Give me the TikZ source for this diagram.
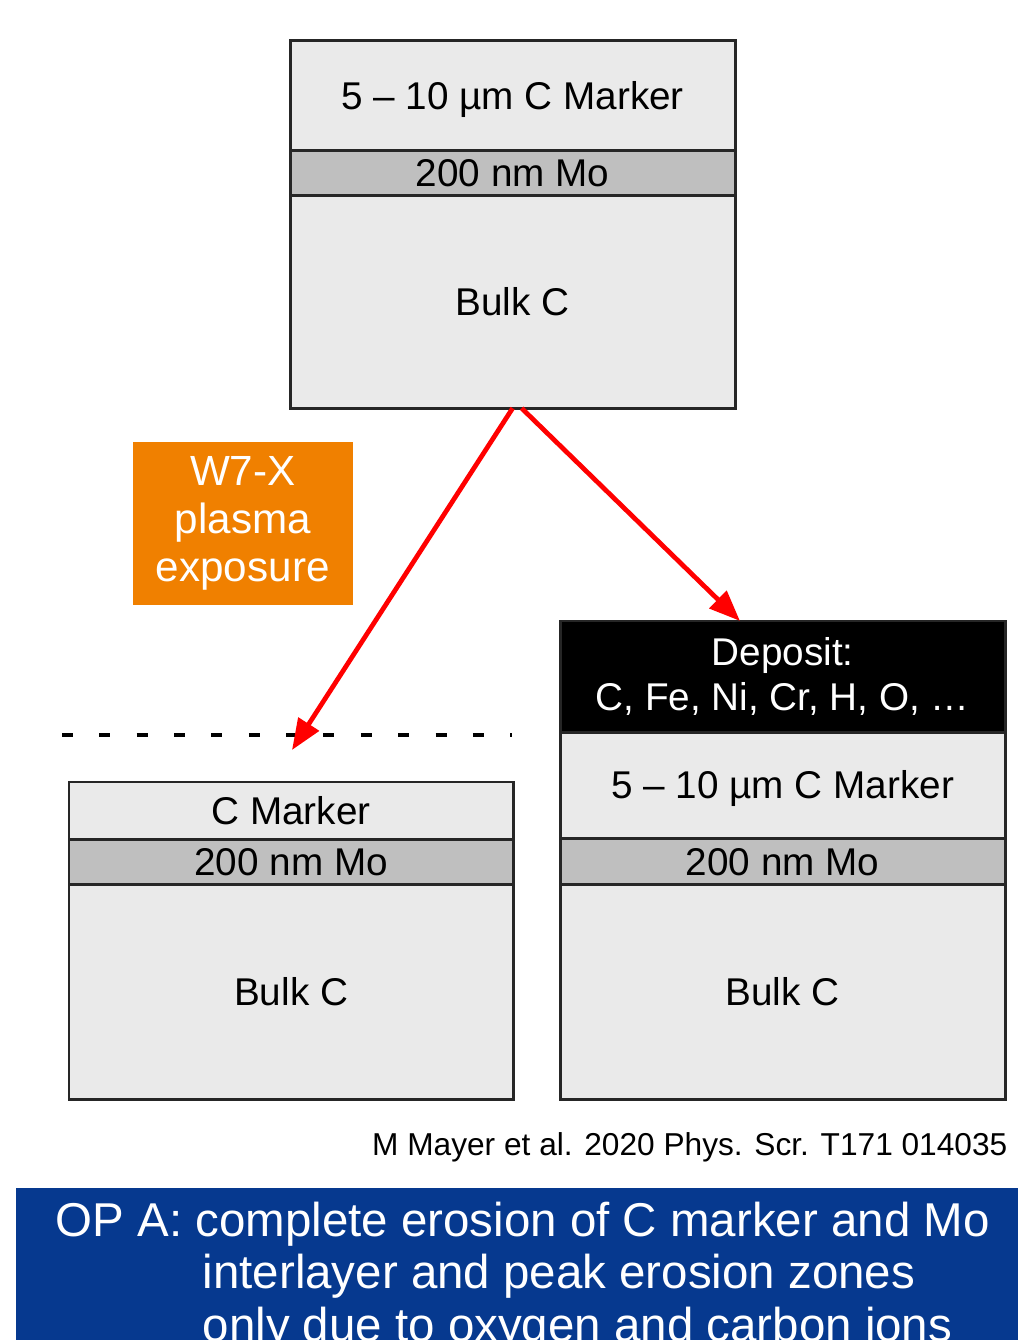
\documentclass[tikz,border=0pt]{standalone}
\usepackage{fontspec}
\setmainfont{Liberation Sans}
\usepackage{tikz}
\usetikzlibrary{positioning,arrows.meta}

\definecolor{layergrey}{HTML}{EAEAEA}
\definecolor{mogrey}{HTML}{BFBFBF}
\definecolor{plasmaorange}{HTML}{F08000}
\definecolor{opblue}{HTML}{06398F}

\begin{document}
\begin{tikzpicture}[x=0.01cm,y=-0.01cm,
	layer/.style={draw=black!85,line width=0.85pt,outer sep=0pt,inner sep=0pt,minimum width=4.45cm,font=\fontsize{11}{12.8}\selectfont},
	cmark/.style={layer,fill=layergrey,text height=7.9pt,text depth=0pt},
	molayer/.style={layer,fill=mogrey,minimum height=0.45cm,text height=7.9pt,text depth=0pt},
	deposit/.style={layer,fill=black,text=white,align=center},
	plasmaarrow/.style={red,line width=1.35pt,-{Triangle[length=8.8pt,width=6.8pt]}},
	optext/.style={text=white,inner sep=0pt,anchor=base west,font=\fontsize{13.5}{15}\selectfont}]
	
	\useasboundingbox (0,0) rectangle (1018,1340);
	
	\node[cmark,anchor=north west,minimum height=1.09cm] (tmark) at (290,41) {5 -- 10 µm C Marker};
	\node[molayer,below=0pt of tmark] (tmo) {200 nm Mo};
	\node[cmark,below=0pt of tmo,minimum height=2.13cm] (tbulk) {Bulk C};
	
	\node[fill=plasmaorange,text=white,anchor=north west,minimum width=2.2cm,minimum height=1.63cm,inner sep=0pt,align=center,font=\fontsize{12}{13.6}\selectfont] (w7x) at (132,441) {W7-X\\plasma\\exposure};
	
	\coordinate (dl) at (62,735);
	\coordinate (dr) at (512,735);
	\draw[line width=1.1pt,dash pattern=on 0.11cm off 0.2633cm] (dl) -- (dr);
	
	\node[cmark,anchor=north west,minimum width=4.44cm,minimum height=0.57cm] (lmark) at (69,782) {C Marker};
	\node[molayer,below=0pt of lmark,minimum width=4.44cm] (lmo) {200 nm Mo};
	\node[cmark,below=0pt of lmo,minimum width=4.44cm,minimum height=2.15cm] (lbulk) {Bulk C};
	
	\node[deposit,anchor=north west,minimum height=1.11cm] (rdep) at (560,621) {Deposit:\\C, Fe, Ni, Cr, H, O, …};
	\node[cmark,below=0pt of rdep,minimum height=1.06cm] (rmark) {5 -- 10 µm C Marker};
	\node[molayer,below=0pt of rmark,minimum height=0.46cm] (rmo) {200 nm Mo};
	\node[cmark,below=0pt of rmo,minimum height=2.15cm] (rbulk) {Bulk C};
	
	\coordinate (ltip) at (292,750);
	\coordinate (rtip) at (740,621);
	\draw[plasmaarrow] (tbulk.south) -- (ltip);
	\draw[plasmaarrow] ([xshift=0.09cm]tbulk.south) -- (rtip);
	
	\node[anchor=base east,inner sep=0pt,font=\fontsize{9}{11}\selectfont] (cite) at (1008,1155) {M Mayer et al. 2020 Phys. Scr. T171 014035};
	
	\fill[opblue] (16,1188) rectangle (1018,1340);
	\node[optext] (op1) at (55,1236) {OP A: complete erosion of C marker and Mo};
	\node[optext] (op2) at (202,1288) {interlayer and peak erosion zones};
	\node[optext] (op3) at (202,1341) {only due to oxygen and carbon ions};
	
\end{tikzpicture}
\end{document}
